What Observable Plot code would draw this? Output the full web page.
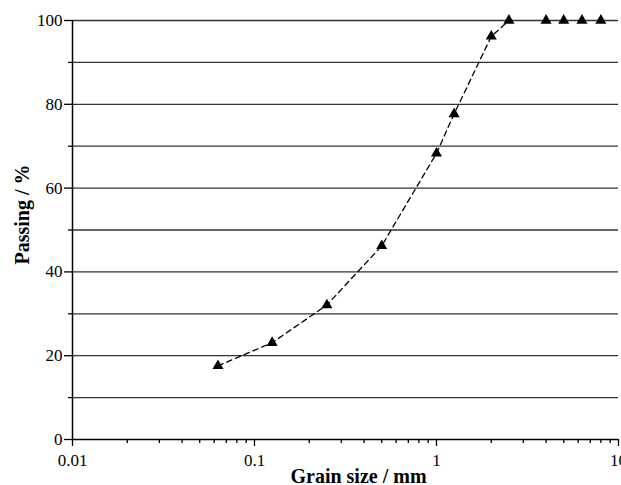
<!DOCTYPE html>
<html>
<head>
<meta charset="utf-8">
<script src="https://cdn.jsdelivr.net/npm/d3@7"></script>
<script src="https://cdn.jsdelivr.net/npm/@observablehq/plot@0.6"></script>
<style>
  html, body { margin: 0; padding: 0; background: #fff; overflow: hidden; }
</style>
</head>
<body>
<div id="chart"></div>
<script>
// Grain size distribution data
const grainSizes = [0.063, 0.125, 0.25, 0.5, 1, 1.25, 2, 2.5, 4, 5, 6.3, 8];
const passingPct = [17.6, 23.1, 32.1, 46.2, 68.3, 77.7, 96.2, 100, 100, 100, 100, 100];
const onCurve   = [true, true, true, true, true, true, true, true, false, false, false, false];

const xMajorTicks = [0.01, 0.1, 1, 10];
const xTickLabels = ["0.01", "0.1", "1", "10"];
const yMajorTicks = [0, 20, 40, 60, 80, 100];
const yMinorTicks = [10, 30, 50, 70, 90];
const yGrid = [10, 20, 30, 40, 50, 60, 70, 80, 90, 100];

const xTitle = "Grain size / mm";
const yTitle = "Passing / %";

const data = grainSizes.map((s, i) => ({size: s, passing: passingPct[i], curve: onCurve[i]}));
const xMinorTicks = [];
for (const dec of [0.01, 0.1, 1]) for (let k = 2; k <= 9; k++) xMinorTicks.push(+(dec * k).toPrecision(3));
const xLabelOf = d => {
  const i = xMajorTicks.findIndex(t => Math.abs(t - d) < 1e-9);
  return i >= 0 ? xTickLabels[i] : "";
};

const chart = Plot.plot({
  width: 621,
  height: 485,
  marginLeft: 72,
  marginRight: 3,
  marginTop: 20,
  marginBottom: 46,
  style: {fontFamily: "'Liberation Serif', 'Times New Roman', serif", fontSize: "17px", color: "#000", background: "#fff", overflow: "visible"},
  x: {type: "log", domain: [0.01, 10]},
  y: {domain: [0, 100]},
  marks: [
    Plot.ruleY(yGrid, {stroke: "#333", strokeWidth: 1.3}),
    Plot.ruleY([0], {stroke: "#000", strokeWidth: 1.5}),
    Plot.ruleX([0.01], {stroke: "#000", strokeWidth: 1.5}),
    Plot.axisY({ticks: yMajorTicks, tickSize: 8, tickPadding: 2, label: null, fontSize: 17, strokeWidth: 1.3}),
    Plot.axisY({ticks: yMinorTicks, tickSize: 4, label: null, text: null, strokeWidth: 1.3}),
    Plot.axisX({ticks: xMajorTicks, tickFormat: xLabelOf, tickSize: 7, tickPadding: 7, label: null, fontSize: 17, strokeWidth: 1.3}),
    Plot.axisX({ticks: xMinorTicks, tickSize: 4, label: null, text: null, strokeWidth: 1.3}),
    Plot.line(data.filter(d => d.curve), {x: "size", y: "passing", stroke: "#000", strokeWidth: 1.3, strokeDasharray: "5.5,4"}),
    Plot.dot(data, {x: "size", y: "passing", symbol: "triangle", r: 4.1, fill: "#000", stroke: "none"}),
    Plot.text([xTitle], {frameAnchor: "bottom", textAnchor: "middle", dx: 13, dy: 43, lineAnchor: "bottom", fontWeight: "bold", fontSize: 20}),
    Plot.text([yTitle], {frameAnchor: "left", textAnchor: "middle", dx: -44, dy: -15.5, rotate: -90, lineAnchor: "bottom", fontWeight: "bold", fontSize: 20})
  ]
});
document.getElementById("chart").appendChild(chart);
</script>
</body>
</html>
